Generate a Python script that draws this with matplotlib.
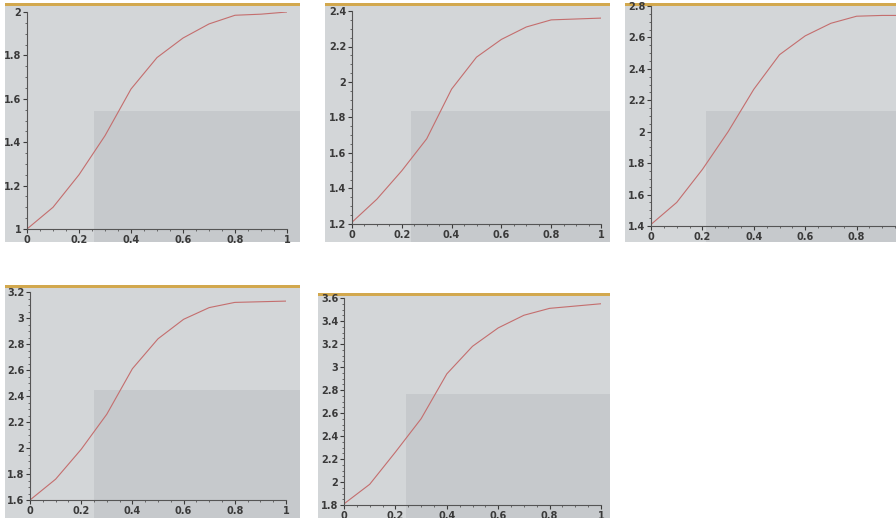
import matplotlib.pyplot as plt
import numpy as np
from matplotlib.ticker import MultipleLocator, AutoMinorLocator, FormatStrFormatter

# x positions shared by all curves
x = [0, 0.1, 0.2, 0.3, 0.4, 0.5, 0.6, 0.7, 0.8, 0.9, 1.0]

# curves
y1 = [1.00, 1.10, 1.25, 1.43, 1.645, 1.79, 1.88, 1.945, 1.985, 1.99, 2.00]
y2 = [1.21, 1.34, 1.50, 1.68, 1.96, 2.14, 2.24, 2.31, 2.35, 2.355, 2.36]
y3 = [1.41, 1.55, 1.76, 2.00, 2.27, 2.49, 2.61, 2.69, 2.735, 2.74, 2.74]
y4 = [1.60, 1.76, 1.99, 2.26, 2.61, 2.84, 2.99, 3.08, 3.12, 3.125, 3.13]
y5 = [1.81, 1.98, 2.26, 2.55, 2.94, 3.18, 3.34, 3.45, 3.51, 3.53, 3.55]

curves = [y1, y2, y3, y4, y5]
ylims = [(1, 2), (1.2, 2.4), (1.4, 2.8), (1.6, 3.2), (1.8, 3.6)]

W, H = 896, 518

# pixel boxes: photo (x0, x1, ytop, ybottom), axes (x at 0, x at 1, y top, y bottom)
photos = [(5, 300, 3, 242), (325, 610, 3, 242), (625, 896, 3, 242),
          (5, 300, 285, 518), (318, 610, 293, 518)]
axboxes = [(27, 287, 12, 229), (352, 601, 11, 224), (651, 908, 6, 226),
           (30, 286, 292, 500), (344, 601, 298, 505)]


def frac(x0, x1, yt, yb):
    return [x0 / W, (H - yb) / H, (x1 - x0) / W, (yb - yt) / H]


fig = plt.figure(figsize=(W / 100, H / 100), dpi=100)
fig.patch.set_facecolor('white')

for i in range(5):
    # photo paper background
    bg = fig.add_axes(frac(*photos[i]))
    bg.set_facecolor('#d3d6d8')
    bg.set_xticks([])
    bg.set_yticks([])
    for s in bg.spines.values():
        s.set_visible(False)
    bg.set_xlim(0, 1)
    bg.set_ylim(0, 1)
    # shadow on the lower right of the photo
    bg.axhspan(0, 0.55, xmin=0.3, xmax=1, color='#b8bbbe', alpha=0.45, lw=0)
    # yellow table edge at top
    bg.axhspan(0.988, 1, color='#d2a84e', lw=0)

    ax = fig.add_axes(frac(*axboxes[i]))
    ax.patch.set_alpha(0)
    ax.plot(x, curves[i], color='#c46e6e', linewidth=0.8)
    ax.set_xlim(0, 1)
    ax.set_ylim(*ylims[i])
    ax.spines['top'].set_visible(False)
    ax.spines['right'].set_visible(False)
    ax.spines['left'].set_color('#555555')
    ax.spines['bottom'].set_color('#555555')
    ax.xaxis.set_major_locator(MultipleLocator(0.2))
    ax.yaxis.set_major_locator(MultipleLocator(0.2))
    ax.xaxis.set_minor_locator(AutoMinorLocator(4))
    ax.yaxis.set_minor_locator(AutoMinorLocator(4))
    ax.xaxis.set_major_formatter(FormatStrFormatter('%g'))
    ax.yaxis.set_major_formatter(FormatStrFormatter('%g'))
    ax.tick_params(which='major', length=3, width=0.8, colors='#3a3a3a',
                   labelsize=7, pad=1)
    ax.tick_params(which='minor', length=1.5, width=0.6, colors='#555555')
    for lab in ax.get_xticklabels() + ax.get_yticklabels():
        lab.set_fontweight('bold')

fig.savefig('out.png', dpi=100)
